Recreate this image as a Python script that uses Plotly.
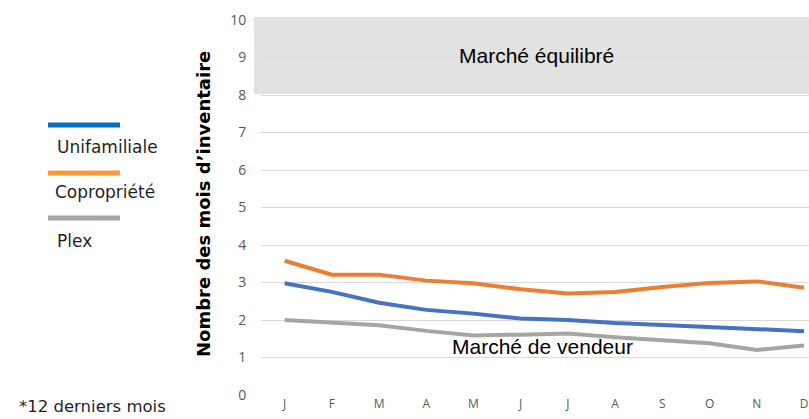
import plotly.graph_objects as go

months = ["J", "F", "M", "A", "M ", "J ", "J  ", "A ", "S", "O", "N", "D"]
month_labels = ["J", "F", "M", "A", "M", "J", "J", "A", "S", "O", "N", "D"]
unifamiliale = [2.98, 2.75, 2.46, 2.27, 2.17, 2.04, 2.00, 1.92, 1.87, 1.81, 1.77, 1.70]
copropriete = [3.58, 3.21, 3.21, 3.05, 2.98, 2.82, 2.71, 2.75, 2.88, 2.99, 3.03, 2.86]
plex = [2.00, 1.93, 1.86, 1.71, 1.59, 1.61, 1.64, 1.54, 1.47, 1.38, 1.20, 1.32]

series = [
    ("Unifamiliale", unifamiliale, "#4472C4", "#0070C0"),
    ("Copropriété", copropriete, "#ED7D31", "#FF9933"),
    ("Plex", plex, "#A5A5A5", "#A6A6A6"),
]

W, H = 809, 419
L, R, T, B = 261, 0, 20, 24
PW, PH = W - L - R, H - T - B


def px(x):
    return (x - L) / PW


def py(y):
    return (H - B - y) / PH


fig = go.Figure()
idx = list(range(len(months)))
for name, vals, col, _ in series:
    fig.add_trace(go.Scatter(x=idx, y=vals, mode="lines", name=name,
                             line=dict(color=col, width=4), showlegend=False))

shapes = [
    dict(type="rect", xref="paper", yref="paper", x0=px(254), x1=1.05,
         y0=py(94), y1=py(17), fillcolor="#E2E2E2", line=dict(width=0), layer="below"),
]
annotations = []
leg_y = [(125, 147, 55), (173, 192, 53), (218, 241, 55)]
for (name, _, _, lc), (ly, ty, tx) in zip(series, leg_y):
    shapes.append(dict(type="line", xref="paper", yref="paper", x0=px(48), x1=px(120),
                       y0=py(ly), y1=py(ly), line=dict(color=lc, width=5)))
    annotations.append(dict(text=name, xref="paper", yref="paper", x=px(tx), y=py(ty),
                            xanchor="left", yanchor="middle", showarrow=False,
                            font=dict(family="DejaVu Sans", size=17, color="#1F1F1F")))

annotations += [
    dict(text="Marché équilibré", xref="paper", yref="paper", x=px(536), y=py(56),
         xanchor="center", yanchor="middle", showarrow=False,
         font=dict(family="Liberation Sans, Arial", size=21, color="#000")),
    dict(text="Marché de vendeur", xref="paper", yref="paper", x=px(542), y=py(346),
         xanchor="center", yanchor="middle", showarrow=False,
         font=dict(family="Liberation Sans, Arial", size=21, color="#000")),
    dict(text="Nombre des mois d’inventaire", xref="paper", yref="paper", x=px(203), y=py(204),
         xanchor="center", yanchor="middle", textangle=-90, showarrow=False,
         font=dict(family="DejaVu Sans", size=18, color="#000", weight="bold")),
    dict(text="*12 derniers mois", xref="paper", yref="paper", x=px(17), y=py(406),
         xanchor="left", yanchor="middle", showarrow=False,
         font=dict(family="DejaVu Sans", size=16.5, color="#1F1F1F")),
]

fig.update_layout(
    width=W, height=H, margin=dict(l=L, r=R, t=T, b=B, autoexpand=False),
    paper_bgcolor="white", plot_bgcolor="rgba(0,0,0,0)",
    shapes=shapes, annotations=annotations, showlegend=False,
    xaxis=dict(range=[-0.5, 11.106], tickmode="array", tickvals=idx, ticktext=month_labels,
               showgrid=False, zeroline=False, showline=False,
               ticks="", ticklen=0,
               tickfont=dict(family="Open Sans", size=12, color="#595959")),
    yaxis=dict(range=[0, 10.0001], dtick=1, tick0=0, showgrid=True, gridcolor="#D9D9D9",
               gridwidth=1, zeroline=False, showline=False,
               ticks="outside", ticklen=11, tickcolor="rgba(0,0,0,0)",
               tickfont=dict(family="Open Sans", size=14, color="#595959")),
)

fig.write_html("out.html", config={"displayModeBar": False},
               post_script="document.body.style.margin='0px';document.body.style.overflow='hidden';")
